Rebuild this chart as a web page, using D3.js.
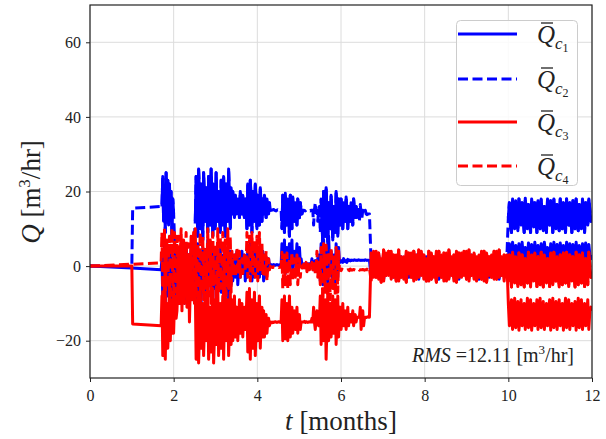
<!DOCTYPE html>
<html><head><meta charset="utf-8">
<script src="https://cdn.jsdelivr.net/npm/d3@7"></script>
<style>body{margin:0;background:#fff}svg{display:block}text{font-family:"Liberation Serif","Times New Roman",serif;fill:#222}</style>
</head><body><svg id="c" width="606" height="439"></svg>
<script>
// ---------- data ----------
const xTicks = [0, 2, 4, 6, 8, 10, 12];
const yTicks = [-20, 0, 20, 40, 60];
const seriesIds = ["1", "2", "3", "4"];
const seriesColors = ["#0000ff", "#0000ff", "#ff0000", "#ff0000"];
const seriesDashed = [false, true, false, true];

// initial (t, value) knots before the active period
const c1Start = [[0, 0], [1.0, -0.5], [1.70, -1.0]];
const c2Start = [[0, 0], [1.0, 0.2], [1.02, 15.5], [1.70, 16]];
const c3Start = [[0, 0], [1.0, 0], [1.02, -15.5], [1.70, -16]];
const c4Start = [[0, 0], [1.0, 0.5], [1.70, 0.9]];

// time spans of the sampled segments (months)
const spanA = [1.72, 6.68];
const spanB = [6.72, 9.96];
const spanC = [10.0, 12.0];

// burst windows (months) in which the dense oscillation of a dashed series reads as a solid band
const c2Bursts = [[1.72, 2.0], [2.5, 4.34], [4.58, 5.1], [5.52, 6.4], [10.0, 12.0]];
const c4Bursts = [[6.72, 9.96], [10.0, 12.0]];

// segment A: 1.72 - 6.68 months
const c1A = [2,-9,-3,6,-10,0,4,-8,-2,5,-6,3,-9,1, -6,3,-2,-9,4,-1,
  5,-7,0,2,-8,-3,4,-10,1,6,-5,-1,3,-8,2,-4,5,-9,0,-3,
  4,-9,0,6,-7,-2,2,-10,-1,5,-6,1,3,-9,-3,7,-5,0,1,-8,-2,5,-6,2,3,-9,-1,4,-4,0,6,-7,-2,3,-8,1,5,-6,-1,2,-9,0,4,-5,
  2,-4,0,3,-3,1,4,-5,-1,2,-3,0,4,-2,1,3,-4,0,
  -3,5,1,-2,6,0,-4,4,1,-3,5,0,-2,4,-1,-3,5,1,-2,4,
  -4,3,0,-3,2,-1,2,0,0.5,0.3,
  0.3,0.2,0.4,0.3,0.2,0.3,0.4,0.3,0.2,0.3,0.4,0.3,
  6,-1,3,7,-2,2,5,-1,3,6,0,4,7,-2,1,4,1,2,6,0,3,5,1,2,0.5,0.5,
  0.5,0.6,0.5,0.7,0.5,0.6,0.5,0.6,0.5,0.6,
  2,0,-1,1,1.5,0.5,0.5,2,3,1,
  -4,6,1,-5,7,0,-3,5,-1,-5,8,2,-2,4,0,-4,3,1,-5,6,0,-3,5,1,
  1,1.5,1.2,1,2,1.5,1.2,1.5,1,1.8,1.5,1.6,1.4,1.6,1.5,1.6,1.5,1.7,1.6,1.5,
  1.6,1.5,1.7,1.6,1.5,1.6,1.5,1.6,1.6,1.5,1.7,1.6,1.5,1.6,1.5,1.6];
const c2A = [16,24,12,21,9,25,14,23,11,22,15,20,8,18, 14,8,3,-2,-6,0,
  2,-7,4,5,-9,1,4,-6,-2,6,-8,3,3,-5,0,5,-4,2,6,8,
  12,24,16,8,26,20,10,22,14,7,25,18,12,21,15,9,24,17,11,26,19,8,22,13,10,25,16,12,20,14,9,23,18,11,24,15,8,22,16,12,26,19,10,21,
  14,20,16,13,19,15,14,18,16,13,20,17,14,19,15,13,18,15,
  10,22,15,11,23,18,9,20,14,12,22,17,10,19,13,11,21,16,12,18,
  14,19,16,13,18,15,14,17,15,15,
  15,15.1,15.2,15,14.9,14.8,15,15.1,15,15.2,15.1,15,
  10,19,14,9,19.5,15,11,18,13,8,19,16,10,18.5,14,12,17,15,11,18,14,13,17,15,14,15,
  15,14.9,14.8,15,15.2,15.1,15,14.9,14.8,15,
  15,15,11,15,17,15,15,12,15,16,
  9,18,13,5,20,14,8,21,15,6,17,12,10,19,14,7,16,12,9,20,15,8,18,13,
  11,18,14,10,17,13,12,18.5,15,10,16,13,12,17,14,11,18,15,13,16,
  13,16,14,12,16.5,14,13,15,14,14,15,14,13.8,14,14,14];
const c3A = [-8,-24,-15,-5,-25,-12,-10,-22,-16,-4,-20,-13,-9,-18, -18,-10,-8,-14,-12,-6,
  4,-10,-3,7,-12,-2,5,-8,-1,6,-11,-4,2,-15,-6,3,-9,-2,-5,-10,
  -6,-25,-15,-9,-26,-18,-5,-22,-13,-10,-24,-16,-7,-20,-12,-4,-25,-17,-11,-23,-14,-6,-26,-19,-9,-21,-13,-5,-24,-16,-10,-22,-15,-8,-25,-14,-6,-20,-12,-9,-24,-17,-7,-21,
  -9,-20,-14,-8,-19,-13,-11,-20,-15,-9,-18,-13,-10,-19,-14,-11,-17,-14,
  -7,-23,-15,-6,-25,-16,-9,-22,-14,-7,-24,-17,-10,-20,-13,-8,-22,-15,-11,-19,
  -12,-19,-15,-13,-18,-15,-14,-16,-15,-15,
  -15.2,-15,-15.1,-15,-14.9,-15,-15.1,-15,-14.9,-15,-15.1,-15,
  -9,-20,-14,-8,-19.5,-13,-10,-20,-15,-8,-19,-14,-11,-18,-13,-12,-17,-15,-11,-18,-14,-13,-17,-15,-15,-15,
  -15,-14.8,-15.1,-14.9,-15,-15.1,-15,-14.9,-15,-15,
  -14,-15,-11,-15,-17,-14,-12,-15,-16,-14,
  -8,-21,-14,-7,-20,-13,-9,-25,-16,-7,-20,-12,-10,-19,-14,-8,-18,-13,-9,-21,-15,-8,-19,-13,
  -11,-17,-14,-10,-16,-13,-12,-17,-14,-11,-16,-13,-13,-15,-14,-12,-16,-14,-13,-15,
  -13.7,-13.8,-13.6,-13.7,-11,-17,-14,-12,-16,-14,-13.7,-13.8,-13.7,-13.6,-13.7,-13.7];
const c4A = [9,-8,2,10,-10,0,7,-6,3,8,-9,1,10,-5, -9,9,0,-7,8,-2,
  8,-9,1,10,-6,3,7,-10,0,9,-8,2,6,-9,-1,8,-7,3,9,-6,
  10,-8,1,6,-10,2,9,-7,0,8,-9,3,5,-6,0,10,-8,2,7,-10,1,9,-5,3,6,-9,0,10,-7,2,8,-6,1,9,-10,3,7,-8,0,10,-6,2,8,-7,
  4,-2,1,3,-3,0,5,-2,1,4,-3,0,2,-2,1,3,-1,0,
  9,-3,3,8,-4,2,9,-2,3,7,-3,1,8,-4,2,9,-1,3,6,-2,
  3,-3,0,4,-4,0,2,-1,0,-0.3,
  -0.3,-0.4,-0.2,-0.3,-0.4,-0.3,-0.2,-0.3,-0.4,-0.3,-0.3,-0.3,
  3.7,-6,-1,3,-5,0,3.5,-6,-1,2,-5,0,3.7,-4,-1,2,-3,0,3,-5,-1,2,-3,0,-0.5,-0.5,
  0.5,-1,0,1,-1.5,0,0.5,-1,0,0,
  1,-1,0,1.5,-2,0,4,-3,1,0,
  -5,5,0,-9,6,-1,-7,5.6,0,-8,4,-2,-9,5,0,-6,3,-1,-8,5,0,-7,4,-1,
  -1,-1.2,-0.8,-1,-1.1,-1,-0.9,-1,-1.1,-1,-1,-1.2,-0.8,-1,-1.1,-1,-0.9,-1,-1.1,-1,
  -1,-1,-0.8,-1.1,-1,-1,-1,-0.9,-1,-1.1,-1,-1,-0.8,-1,-1,-0.5];

// segment B: 6.72 - 9.96 months
const c1B = [-3,2,-2.5,3,-1,-3.5,2,-2,3,-3,1,-3.5,2.5,-2,3,-3,1.5,-2.5,3,-3.5,2,-1,2.5,-3,3,-2,1,-3.5,2,-2.5,3,-3,1.5,-2,3,-3.5,2,-1.5,2.5,-3,3,-2,1,-3.5,2,-2.5,3,-3,1.5,-2,2.5,-3.5,2,-1,1];
const c2B = [1,-1,2,0,-2,1.5,-0.5,2,-1.5,1,-2,0.5,2,-1,1.5,-2,0,2,-1,1,-1.5,2,-0.5,1,-2,1.5,0,-1,2,-1.5,1,-2,0.5,2,-1,1.5,-1.5,0,2,-1,1,-2,1.5,-0.5,2,-1,0.5,-1.5,2,-1,1,-2,1.5,-0.5,1];
const c3B = [3.5,-3,4,-3.5,2,-4,3.5,-2.5,4,-3,3,-4,2.5,-3.5,4,-2,3.5,-4,3,-3,4,-3.5,2,-4,3.5,-3,4,-2.5,3,-4,3.5,-3.5,2.5,-4,4,-3,3.5,-2.5,4,-4,3,-3.5,2.5,-3,4,-4,3.5,-2.5,3,-3.5,4,-3,2.5,-4,3];
const c4B = [-4,4,-3,3.5,-4.3,4.3,-2.5,4,-3.5,3,-4,4.3,-3,2.5,-4.3,3.5,-3,4,-3.5,4.3,-2.5,3,-4,4,-3.5,2.5,-4.3,4,-3,3.5,-4,4.3,-2.5,3,-4.3,3.5,-3,4,-3.5,4.3,-2.5,3.5,-4,3,-3.5,4,-4.3,2.5,-3,4,-3.5,4.3,-2.5,3,-2];

// segment C: 10 - 12 months
const c1C = [2,6,4,1,6.4,3,1.5,5.5,3.5,1,6,4,2,6.4,3,1,5,3.5,1.5,6.2,4,1,5.8,3,2,6.4,4,1,5.5,3,1.5,6,3.5,1,6.4,4,2,5,3,1,6,4,1.5,6.4,3,1,5.8,3.5,2,6.2,4,1,5.5,3,1.5,6.4,3.5,1,6,4,2,5.8,3,1,6.4,4,1.5,5.5,3,1,6,3.5,2,6.2,4,1,5.8,3,2,3];
const c2C = [13,17,11,9,18,14,10,17.5,12,9.5,18,15,11,17,13,9,18.2,14,10,16.5,12,9,18,15,10.5,17,13,9,17.5,14,10,18,12,9.5,16,13,9,18,15,11,17.5,13,9,18,14,10,16.5,12,9.5,18,15,10,17,13,9,18,14,11,17,12,9,17.5,15,10,18,13,9.5,16.5,12,10,18,14,9,17,13,11,18,15,12,13];
const c3C = [-10,-16,-12,-9,-17,-13,-8.6,-16.5,-12,-9.5,-17.2,-14,-9,-16,-12,-10,-17,-13,-8.6,-16.5,-12,-9,-17.2,-14,-10,-16,-13,-9,-17,-12,-8.6,-16.5,-13,-9.5,-17,-14,-10,-16,-12,-9,-17.2,-13,-8.6,-16.5,-12,-9.5,-17,-14,-9,-16,-13,-10,-17.2,-12,-8.6,-16.5,-13,-9,-17,-14,-10,-16,-12,-9.5,-17.2,-13,-8.6,-16.5,-12,-9,-17,-14,-10,-16,-13,-9,-17,-12,-11,-12];
const c4C = [-4,3,-1,-5.6,3.7,0,-4.5,2.5,-2,-5.5,3.5,-1,-5,3,0,-5.6,2,-2,-4.5,3.7,-1,-5.6,3,0,-4,3.5,-2,-5.5,2.5,-1,-5,3.7,0,-5.6,3,-2,-4.5,2,-1,-5.5,3.5,0,-5,3.7,-2,-4,2.5,-1,-5.6,3,0,-5,3.5,-2,-4.5,3.7,-1,-5.5,3,0,-4,2.5,-2,-5.6,3.7,-1,-5,3,0,-4.5,3.5,-2,-5.5,2,-1,-5,3.7,0,-3,-2];

const rmsValue = "12.11";

// ---------- build series ----------
function spread(vals, span) {
  const n = vals.length;
  return vals.map((v, i) => [span[0] + (span[1] - span[0]) * i / (n - 1), v]);
}
const seriesData = [
  [c1Start, c1A, c1B, c1C],
  [c2Start, c2A, c2B, c2C],
  [c3Start, c3A, c3B, c3C],
  [c4Start, c4A, c4B, c4C]
].map(([s, a, b, c]) => s.concat(spread(a, spanA), spread(b, spanB), spread(c, spanC)));
const seriesBursts = [[], c2Bursts, [], c4Bursts];

// ---------- layout ----------
const svg = d3.select("#c");
const L = 90, R = 592, T = 5, B = 378;
const x = d3.scaleLinear().domain([0, 12]).range([L, R]);
const y = d3.scaleLinear().domain([-30, 70]).range([B, T]);

// grid
const grid = svg.append("g").attr("stroke", "#dcdcdc").attr("stroke-width", 1);
grid.selectAll(".gx").data(xTicks).join("line")
  .attr("x1", d => x(d)).attr("x2", d => x(d)).attr("y1", T).attr("y2", B);
grid.selectAll(".gy").data(yTicks).join("line")
  .attr("x1", L).attr("x2", R).attr("y1", d => y(d)).attr("y2", d => y(d));

// clip
svg.append("clipPath").attr("id", "clip").append("rect")
  .attr("x", L).attr("y", T).attr("width", R - L).attr("height", B - T);

const line = d3.line().x(d => x(d[0])).y(d => y(d[1]));
const lines = svg.append("g").attr("clip-path", "url(#clip)");
seriesData.forEach((d, i) => {
  const g = lines.append("g").attr("fill", "none").attr("stroke", seriesColors[i])
    .attr("stroke-width", 3).attr("stroke-linejoin", "round");
  g.append("path").attr("d", line(d))
    .attr("stroke-dasharray", seriesDashed[i] ? "10,4.5" : null);
  // dense bursts: overlapping passes of the dashed line fill into a solid band
  seriesBursts[i].forEach(w => {
    const part = d.filter(p => p[0] >= w[0] - 1e-9 && p[0] <= w[1] + 1e-9);
    if (part.length > 1) g.append("path").attr("d", line(part));
  });
});

// axes
const fmt = d => d < 0 ? "\u2212" + Math.abs(d) : String(d);
const xAxis = svg.append("g").attr("transform", `translate(0,${B})`)
  .call(d3.axisBottom(x).tickValues(xTicks).tickFormat(fmt).tickSize(4).tickPadding(5));
const yAxis = svg.append("g").attr("transform", `translate(${L},0)`)
  .call(d3.axisLeft(y).tickValues(yTicks).tickFormat(fmt).tickSize(4).tickPadding(5));
[xAxis, yAxis].forEach(a => {
  a.select(".domain").remove();
  a.selectAll("line").attr("stroke", "#222").attr("stroke-width", 1);
  a.selectAll("text").attr("font-size", 16).attr("fill", "#333")
    .style("font-family", '"Liberation Serif",serif');
});
xAxis.selectAll("text").attr("dy", "0.85em");
// frame
svg.append("rect").attr("x", L).attr("y", T).attr("width", R - L).attr("height", B - T)
  .attr("fill", "none").attr("stroke", "#222").attr("stroke-width", 1.2);

// axis labels
const xl = svg.append("text").attr("x", 341).attr("y", 430).attr("text-anchor", "middle").attr("font-size", 27);
xl.append("tspan").attr("font-style", "italic").text("t");
xl.append("tspan").text(" [months]");

const yl = svg.append("text").attr("transform", "translate(40,192) rotate(-90)")
  .attr("text-anchor", "middle").attr("font-size", 27);
yl.append("tspan").attr("font-style", "italic").text("Q");
yl.append("tspan").text(" [m");
yl.append("tspan").attr("font-size", 17).attr("dy", -10).text("3");
yl.append("tspan").attr("dy", 10).text("/hr]");

// RMS text
const rt = svg.append("text").attr("x", 574).attr("y", 362).attr("text-anchor", "end").attr("font-size", 20);
rt.append("tspan").attr("font-style", "italic").text("RMS");
rt.append("tspan").text(" =" + rmsValue + "  [m");
rt.append("tspan").attr("font-size", 13).attr("dy", -8).text("3");
rt.append("tspan").attr("dy", 8).text("/hr]");

// legend
const lg = svg.append("g");
lg.append("rect").attr("x", 456.5).attr("y", 20.5).attr("width", 121).attr("height", 165)
  .attr("rx", 4).attr("fill", "#fff").attr("fill-opacity", 0.85)
  .attr("stroke", "#cccccc").attr("stroke-width", 1);
const legY = [34, 79, 122, 166];
seriesIds.forEach((id, i) => {
  const yy = legY[i];
  lg.append("line").attr("x1", 458).attr("x2", 517).attr("y1", yy).attr("y2", yy)
    .attr("stroke", seriesColors[i]).attr("stroke-width", 3)
    .attr("stroke-dasharray", seriesDashed[i] ? "10,4.5" : null);
  const t = lg.append("text").attr("x", 537).attr("y", yy + 9).attr("font-size", 25);
  t.append("tspan").attr("font-style", "italic").text("Q");
  t.append("tspan").attr("font-style", "italic").attr("font-size", 17).attr("dy", 6).text("c");
  t.append("tspan").attr("font-size", 12).attr("dy", 3).text(id);
  lg.append("line").attr("x1", 541).attr("x2", 553).attr("y1", yy - 11).attr("y2", yy - 11)
    .attr("stroke", "#222").attr("stroke-width", 1.3);
});
</script></body></html>
